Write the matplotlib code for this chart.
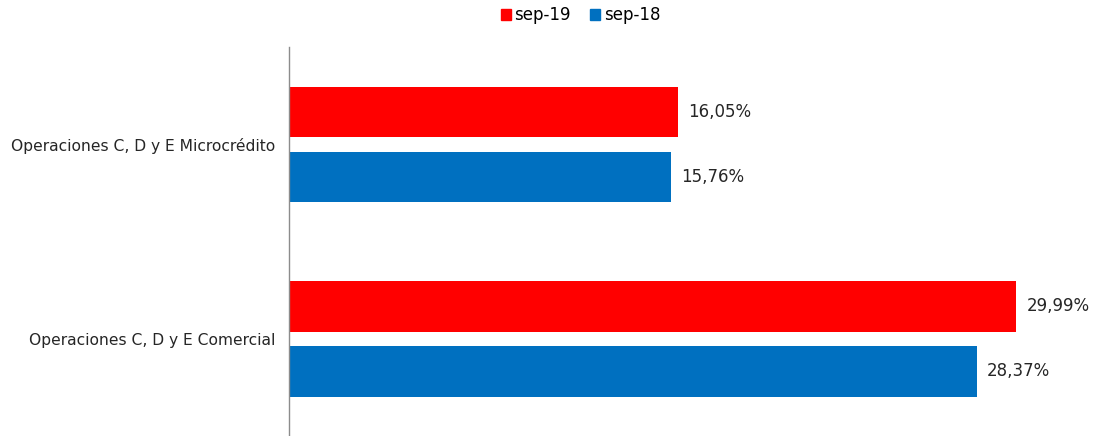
import numpy as np
from matplotlib import pyplot as plt
from matplotlib.patches import Patch

plt.rcParams['font.family'] = ['DejaVu Sans']

# Data
categories = ['Operaciones C, D y E Comercial', 'Operaciones C, D y E Microcrédito']
series_names = ['sep-19', 'sep-18']
sep19 = [29.99, 16.05]
sep18 = [28.37, 15.76]
colors = ['#FF0000', '#0070C0']

fig = plt.figure(figsize=(10.93, 4.36), dpi=100)
ax = fig.add_axes([0.2644, 0.0, 0.7266, 0.892])

y = np.arange(len(categories))
h = 0.26
off = 0.167

bars19 = ax.barh(y + off, sep19, height=h, color=colors[0])
bars18 = ax.barh(y - off, sep18, height=h, color=colors[1])

for bars, vals in ((bars19, sep19), (bars18, sep18)):
    for b, v in zip(bars, vals):
        ax.text(b.get_width() + 0.42, b.get_y() + b.get_height() / 2,
                f'{v:.2f}%'.replace('.', ','), va='center', ha='left',
                fontsize=12, color='#262626')

ax.set_xlim(0, 32.75)
ax.set_ylim(-0.5, 1.5)
ax.set_yticks(y)
ax.set_yticklabels(categories, fontsize=11.2, color='#262626')
ax.tick_params(axis='y', length=0, pad=10)
ax.set_xticks([])

# Only left axis line
for side in ('top', 'right', 'bottom'):
    ax.spines[side].set_visible(False)
ax.spines['left'].set_color('#8c8c8c')
ax.spines['left'].set_linewidth(1.0)

handles = [Patch(color=c) for c in colors]
fig.legend(handles, series_names, loc='center', bbox_to_anchor=(0.531, 0.965),
           ncol=2, frameon=False, fontsize=12, handlelength=0.6,
           handleheight=0.6, handletextpad=0.2, columnspacing=1.2)

fig.savefig('out.png', dpi=100)
